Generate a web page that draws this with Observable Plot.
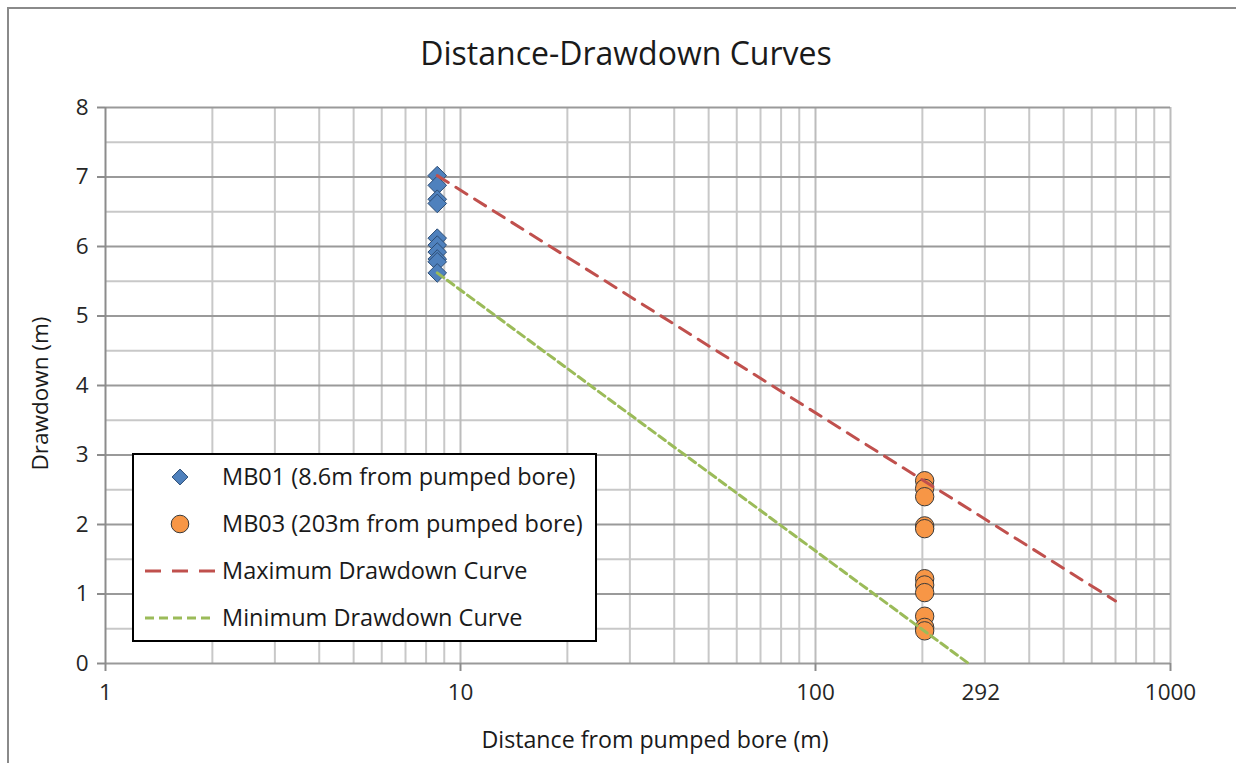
<!DOCTYPE html>
<html><head><meta charset="utf-8">
<script src="https://cdn.jsdelivr.net/npm/d3@7"></script>
<script src="https://cdn.jsdelivr.net/npm/@observablehq/plot@0.6"></script>
<style>
body{margin:0;background:#fff;font-family:"Open Sans",sans-serif;}
#wrap{position:relative;width:1236px;height:763px;overflow:hidden;}
#frame{position:absolute;left:7px;top:7px;width:1300px;height:800px;border:2px solid #8a8a8a;}
#title{position:absolute;left:0;width:1252px;top:32px;text-align:center;font-size:32px;line-height:42px;color:#1a1a1a;}
#chart{position:absolute;left:0;top:0;}
#legend{position:absolute;left:132px;top:453px;}
</style></head>
<body>
<div id="wrap"><div id="frame"></div><div id="title">Distance-Drawdown Curves</div><div id="chart"></div><div id="legend"></div></div>
<script>
// ---- data ----
const mb01Distance = 8.6;
const mb01Drawdown = [7.02, 6.88, 6.68, 6.62, 6.12, 6.02, 5.92, 5.82, 5.78, 5.62];
const mb03Distance = 203;
const mb03Drawdown = [2.63, 2.52, 2.40, 1.98, 1.94, 1.22, 1.13, 1.02, 0.68, 0.52, 0.47];
const maxCurveDistance = [8.6, 700];
const maxCurveDrawdown = [7.02, 0.9];
const minCurveDistance = [8.6, 270];
const minCurveDrawdown = [5.62, 0];
const xTickLabels = [1, 10, 100, 292, 1000];
const xMajor = [1, 10, 100, 1000];
const xMinor = [2,3,4,5,6,7,8,9,20,30,40,50,60,70,80,90,200,300,400,500,600,700,800,900];
const yMajor = [0,1,2,3,4,5,6,7,8];
const yMinor = [0.5,1.5,2.5,3.5,4.5,5.5,6.5,7.5];
const legendLabels = ["MB01 (8.6m from pumped bore)", "MB03 (203m from pumped bore)", "Maximum Drawdown Curve", "Minimum Drawdown Curve"];

const mb01 = mb01Drawdown.map(v => ({x: mb01Distance, y: v}));
const mb03 = mb03Drawdown.map(v => ({x: mb03Distance, y: v}));
const maxCurve = maxCurveDistance.map((d, i) => ({x: d, y: maxCurveDrawdown[i]}));
const minCurve = minCurveDistance.map((d, i) => ({x: d, y: minCurveDrawdown[i]}));

const BLUE = "#4F81BD", ORANGE = "#F79646", RED = "#C0504D", GREEN = "#9BBB59";
const FONT = "'Open Sans', sans-serif";

const chart = Plot.plot({
  width: 1236, height: 763,
  marginLeft: 105, marginRight: 66, marginTop: 107, marginBottom: 100,
  x: {type: "log", domain: [1, 1000]},
  y: {domain: [0, 8]},
  style: {fontFamily: FONT, background: "transparent", color: "#262626"},
  marks: [
    Plot.ruleY(yMinor, {stroke: "#c8c8c8", strokeWidth: 2}),
    Plot.ruleX(xMinor, {stroke: "#c8c8c8", strokeWidth: 2}),
    Plot.ruleX(xMajor.slice(1), {stroke: "#bcbcbc", strokeWidth: 2}),
    Plot.ruleY(yMajor, {stroke: "#9a9a9a", strokeWidth: 2}),
    Plot.ruleX([1], {stroke: "#8c8c8c", strokeWidth: 2}),
    Plot.axisY({ticks: yMajor, tickSize: 8, tickPadding: 9, fontSize: 22.5, label: null, stroke: "#8c8c8c", strokeWidth: 2}),
    Plot.axisX({ticks: xMajor, tickSize: 8, tickFormat: () => "", label: null, stroke: "#8c8c8c", strokeWidth: 2}),
    Plot.axisX({ticks: xTickLabels, tickSize: 0, tickPadding: 21, fontSize: 22.5, tickFormat: d => String(d), label: null}),
    Plot.dot(mb01, {x: "x", y: "y", symbol: "diamond2", r: 8.4, fill: BLUE, stroke: "#2d4d75", strokeWidth: 1}),
    Plot.dot(mb03, {x: "x", y: "y", symbol: "circle", r: 9.2, fill: ORANGE, stroke: "#3a3a3a", strokeWidth: 1}),
    Plot.line(maxCurve, {x: "x", y: "y", stroke: RED, strokeWidth: 3, strokeDasharray: "13,9"}),
    Plot.line(minCurve, {x: "x", y: "y", stroke: GREEN, strokeWidth: 3, strokeDasharray: "8,4.5"}),
    Plot.text(["Drawdown (m)"], {text: d => d, frameAnchor: "left", textAnchor: "middle", rotate: -90, dx: -65, dy: 8, fontSize: 22.5, fill: "#1a1a1a"}),
    Plot.text(["Distance from pumped bore (m)"], {text: d => d, frameAnchor: "bottom", lineAnchor: "middle", dx: 17, dy: 77, fontSize: 23.2, fill: "#1a1a1a"})
  ]
});
document.getElementById("chart").appendChild(chart);

// ---- legend ----
const lw = 465, lh = 189;
const lg = d3.select("#legend").append("svg").attr("width", lw).attr("height", lh)
  .style("font-family", FONT);
lg.append("rect").attr("x", 1).attr("y", 1).attr("width", lw - 2).attr("height", lh - 2)
  .attr("fill", "#fff").attr("stroke", "#000").attr("stroke-width", 2);
const rowY = i => 24 + i * 47;
lg.selectAll("text").data(legendLabels).join("text")
  .attr("x", 90).attr("y", (d, i) => rowY(i)).attr("dy", "0.35em")
  .attr("font-size", 23.5).attr("fill", "#1a1a1a").text(d => d);
lg.append("path").attr("d", d3.symbol(d3.symbolDiamond2, 160)()).attr("transform", `translate(48,${rowY(0)})`)
  .attr("fill", BLUE).attr("stroke", "#2d4d75");
lg.append("circle").attr("cx", 48).attr("cy", rowY(1)).attr("r", 8.8).attr("fill", ORANGE).attr("stroke", "#3a3a3a");
lg.append("line").attr("x1", 13).attr("x2", 83).attr("y1", rowY(2)).attr("y2", rowY(2))
  .attr("stroke", RED).attr("stroke-width", 3).attr("stroke-dasharray", "16,11");
lg.append("line").attr("x1", 13).attr("x2", 83).attr("y1", rowY(3)).attr("y2", rowY(3))
  .attr("stroke", GREEN).attr("stroke-width", 3).attr("stroke-dasharray", "9,5");
</script>
</body></html>
